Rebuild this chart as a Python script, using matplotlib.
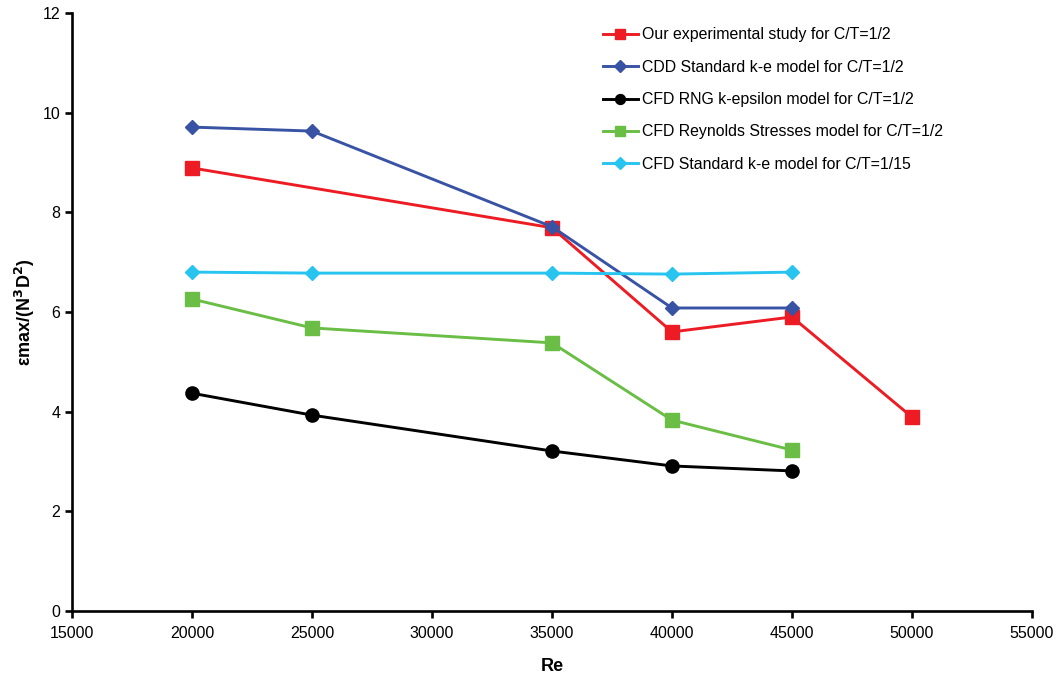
import matplotlib.pyplot as plt

plt.rcParams['font.family'] = ['Liberation Sans', 'DejaVu Sans']

re_vals = [20000, 25000, 35000, 40000, 45000]
re_exp = [20000, 35000, 40000, 45000, 50000]

exp_half = [8.89, 7.69, 5.60, 5.90, 3.89]
cdd_ke_half = [9.71, 9.63, 7.71, 6.08, 6.08]
rng_half = [4.37, 3.93, 3.21, 2.91, 2.81]
rsm_half = [6.26, 5.68, 5.38, 3.83, 3.23]
ke_15 = [6.80, 6.78, 6.78, 6.76, 6.80]

labels = ['Our experimental study for C/T=1/2',
          'CDD Standard k-e model for C/T=1/2',
          'CFD RNG k-epsilon model for C/T=1/2',
          'CFD Reynolds Stresses model for C/T=1/2',
          'CFD Standard k-e model for C/T=1/15']

fig = plt.figure(figsize=(10.59, 6.76), dpi=100)
ax = fig.add_axes([0.068, 0.0962, 0.9065, 0.8846])

lw = 2.1
ax.plot(re_exp, exp_half, color='#ed1c24', marker='s', ms=9.5, lw=lw, label=labels[0])
ax.plot(re_vals, cdd_ke_half, color='#3953a4', marker='D', ms=7.5, lw=lw, label=labels[1])
ax.plot(re_vals, rng_half, color='black', marker='o', ms=9.5, lw=lw, label=labels[2])
ax.plot(re_vals, rsm_half, color='#6abd45', marker='s', ms=9.5, lw=lw, label=labels[3])
ax.plot(re_vals, ke_15, color='#27c4f0', marker='D', ms=7.5, lw=lw, label=labels[4])

ax.set_xlim(15000, 55000)
ax.set_ylim(0, 12)
ax.set_xticks(range(15000, 55001, 5000))
ax.set_yticks(range(0, 13, 2))

for s in ['top', 'right']:
    ax.spines[s].set_visible(False)
for s in ['left', 'bottom']:
    ax.spines[s].set_linewidth(1.9)
ax.tick_params(width=1.9, length=5, labelsize=11.5)
ax.tick_params(axis='x', pad=6)

ax.set_xlabel('Re', fontsize=13, fontweight='bold', labelpad=12)
ax.set_ylabel(r'εmax/(N$^\mathbf{3}$D$^\mathbf{2}$)', fontsize=13, fontweight='bold', labelpad=4)

ax.legend(loc='upper left', bbox_to_anchor=(0.538, 1.0), frameon=False,
          fontsize=11.4, handlelength=2.2, handletextpad=0.25, labelspacing=1.1,
          markerscale=0.75)

fig.savefig('out.png', dpi=100)
